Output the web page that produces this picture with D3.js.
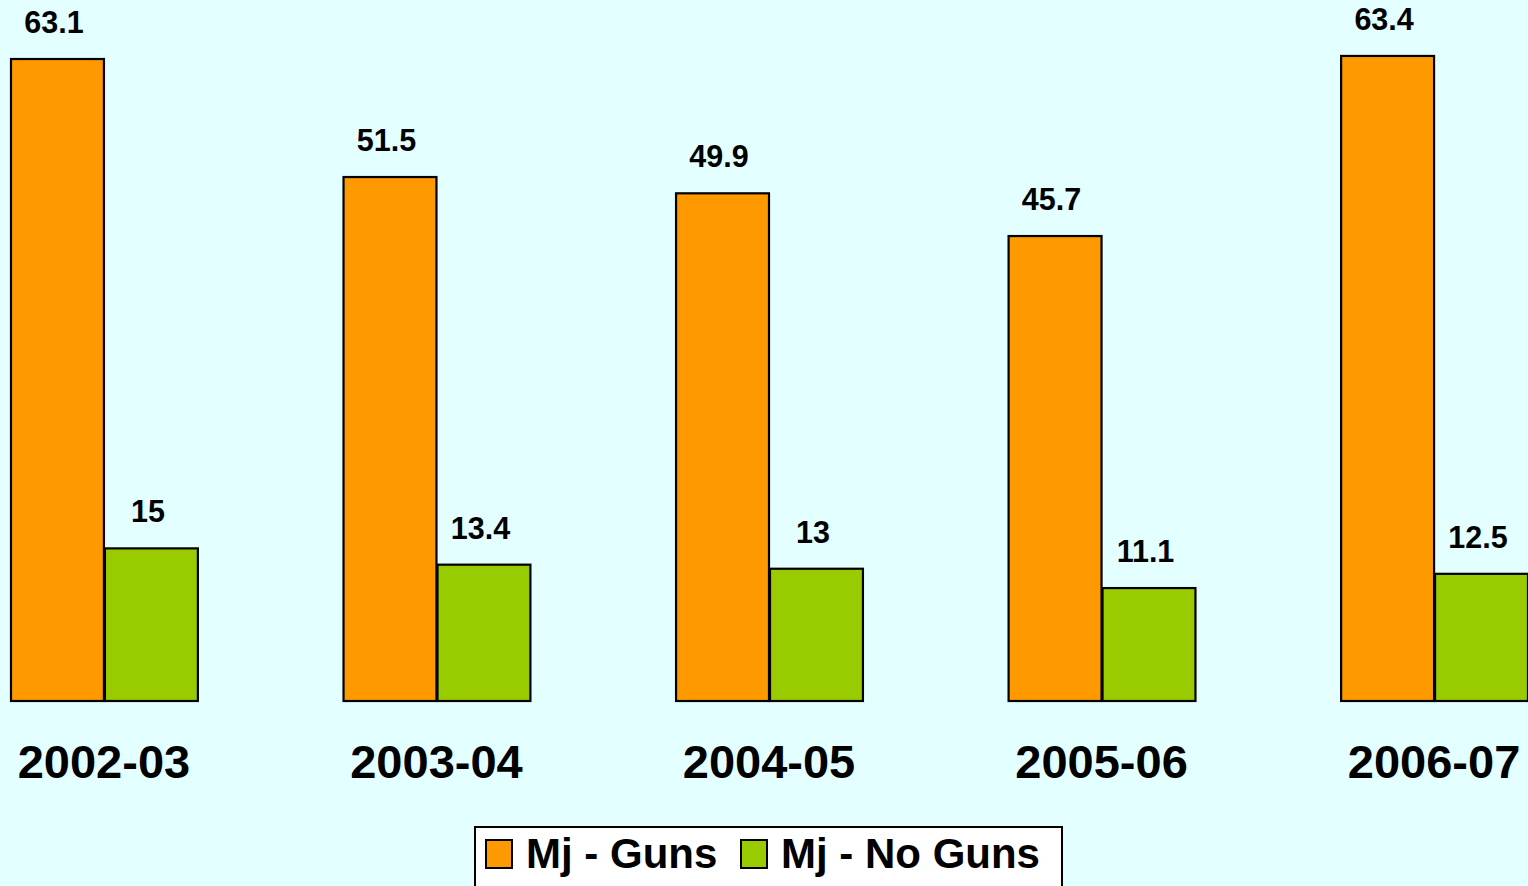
<!DOCTYPE html>
<html>
<head>
<meta charset="utf-8">
<script src="https://cdn.jsdelivr.net/npm/d3@7"></script>
<style>
  html, body { margin: 0; padding: 0; background: #E4FFFF; overflow: hidden; }
  svg { display: block; }
  text { font-family: "Liberation Sans", Arial, sans-serif; font-weight: bold; fill: #000; }
</style>
</head>
<body>
<svg id="chart" width="1528" height="886"></svg>
<script>
// School years shown along the bottom
const years = ["2002-03", "2003-04", "2004-05", "2005-06", "2006-07"];
// Series names (legend order)
const seriesNames = ["Mj - Guns", "Mj - No Guns"];
// Values per series, one per year
const gunsValues = [63.1, 51.5, 49.9, 45.7, 63.4];
const noGunsValues = [15, 13.4, 13, 11.1, 12.5];
const seriesColors = ["#FF9900", "#99CC00"];

const data = years.map((y, i) => ({
  year: y,
  values: [
    { key: seriesNames[0], value: gunsValues[i] },
    { key: seriesNames[1], value: noGunsValues[i] }
  ]
}));

const W = 1528, H = 886;
const svg = d3.select("#chart");

svg.append("rect").attr("width", W).attr("height", H).attr("fill", "#E4FFFF");

const x0 = d3.scaleBand().domain(years).range([10, 1528]).paddingInner(0.435).paddingOuter(0);
const x1 = d3.scaleBand().domain(seriesNames).range([0, x0.bandwidth()]).padding(0);
const y = d3.scaleLinear().domain([0, 68.9]).range([701, 0]);
const color = d3.scaleOrdinal().domain(seriesNames).range(seriesColors);

const groups = svg.append("g").selectAll("g")
  .data(data).join("g")
  .attr("transform", d => `translate(${x0(d.year)},0)`);

groups.selectAll("rect")
  .data(d => d.values).join("rect")
  .attr("x", d => x1(d.key) + 1)
  .attr("y", d => y(d.value))
  .attr("width", x1.bandwidth() - 1)
  .attr("height", d => y(0) - y(d.value))
  .attr("fill", d => color(d.key))
  .attr("stroke", "#000")
  .attr("stroke-width", 2.2);

groups.selectAll("text.val")
  .data(d => d.values).join("text")
  .attr("class", "val")
  .attr("x", d => x1(d.key) + x1.bandwidth() / 2 - 3)
  .attr("y", d => y(d.value) - 26)
  .attr("text-anchor", "middle")
  .attr("font-size", 30.5)
  .text(d => d.value);

// Category axis labels
const xAxis = svg.append("g").attr("transform", `translate(0,${y(0)})`)
  .call(d3.axisBottom(x0).tickSize(0).tickPadding(0));
xAxis.select(".domain").remove();
xAxis.selectAll("text")
  .attr("dy", null)
  .attr("y", 77)
  .attr("font-size", 47)
  .style("font-family", "'Liberation Sans', Arial, sans-serif")
  .style("font-weight", "bold")
  .attr("fill", "#000");

// Legend
const legend = svg.append("g");
legend.append("rect")
  .attr("x", 475).attr("y", 827)
  .attr("width", 587).attr("height", 80)
  .attr("fill", "#fff").attr("stroke", "#000").attr("stroke-width", 2);

const legendX = [486, 741];
seriesNames.forEach((name, i) => {
  legend.append("rect")
    .attr("x", legendX[i]).attr("y", 840)
    .attr("width", 26).attr("height", 28)
    .attr("fill", seriesColors[i])
    .attr("stroke", "#000").attr("stroke-width", 2);
  legend.append("text")
    .attr("x", legendX[i] + 40).attr("y", 868)
    .attr("font-size", 42)
    .text(name);
});
</script>
</body>
</html>
